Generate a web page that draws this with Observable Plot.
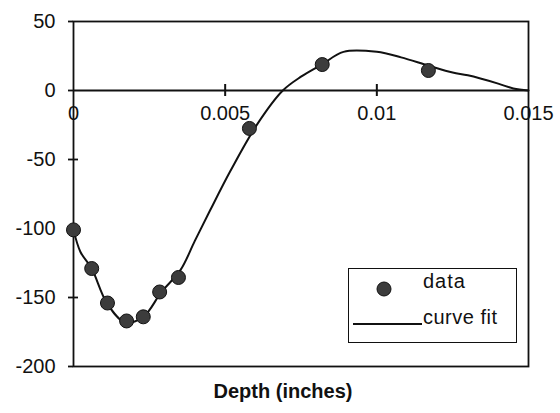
<!DOCTYPE html>
<html>
<head>
<meta charset="utf-8">
<script src="https://cdn.jsdelivr.net/npm/d3@7"></script>
<script src="https://cdn.jsdelivr.net/npm/@observablehq/plot@0.6"></script>
<style>
  html, body { margin: 0; padding: 0; background: #fff; }
  #wrap { position: relative; width: 560px; height: 413px; font-family: "Liberation Sans", Arial, Helvetica, sans-serif; }
  #legend { position: absolute; left: 348px; top: 268px; width: 169px; height: 75px; box-sizing: border-box; border: 1.5px solid #111; background: #fff; }
</style>
</head>
<body>
<div id="wrap"></div>
<script>
// Measured data points (depth in inches, value)
const dataDepth = [0, 0.0006, 0.00112, 0.00175, 0.0023, 0.00284, 0.00346, 0.0058, 0.0082, 0.0117];
const dataValue = [-101, -129, -154, -167, -164, -146, -135.5, -27.5, 18.8, 14.5];

// Curve fit
const fitDepth = [0, 0.00023, 0.0006, 0.0011, 0.0017, 0.0023, 0.0029, 0.00353, 0.0040, 0.0045, 0.00518, 0.00607, 0.0069, 0.0075, 0.0082, 0.0089, 0.0100, 0.0108, 0.0117, 0.0125, 0.0130, 0.0140, 0.0145, 0.0150];
const fitValue = [-101, -117, -129, -154, -168, -164, -146, -130, -109, -87, -58, -24, 0, 10, 19, 28, 28, 24, 18, 13, 11, 5, 1.5, 0];

const xTickValues = [0, 0.005, 0.01, 0.015];
const xTickLabels = ["0", "0.005", "0.01", "0.015"];
const yTickValues = [50, 0, -50, -100, -150, -200];
const xLabel = "Depth (inches)";
const legendLabels = ["data", "curve fit"];

const points = dataDepth.map((d, i) => ({x: d, y: dataValue[i]}));
const fit = fitDepth.map((d, i) => ({x: d, y: fitValue[i]}));

const font = "\"Liberation Sans\", Arial, Helvetica, sans-serif";

const chart = Plot.plot({
  width: 560,
  height: 413,
  marginLeft: 73,
  marginRight: 32,
  marginTop: 21,
  marginBottom: 47,
  style: {fontFamily: font, fontSize: "20px", color: "#111", background: "#fff", overflow: "visible"},
  x: {domain: [0, 0.015]},
  y: {domain: [-200, 50]},
  marks: [
    Plot.frame({stroke: "#111", strokeWidth: 1.8}),
    Plot.ruleY([0], {stroke: "#111", strokeWidth: 1.8}),
    // y axis labels and outward ticks
    Plot.axisY({ticks: yTickValues, tickSize: 5, tickPadding: 13, tickFormat: d => String(d), stroke: "#111", strokeWidth: 1.8, fill: "#111", label: null, fontSize: 20, letterSpacing: "1px"}),
    // inward part of y ticks
    Plot.axisY({ticks: [-50, -100, -150], tickSize: 5, dx: 5, text: null, stroke: "#111", strokeWidth: 1.8, label: null}),
    // x ticks crossing zero line
    Plot.axisX({ticks: [0.005, 0.01], anchor: "bottom", tickSize: 12, dy: -282, text: null, stroke: "#111", strokeWidth: 2, label: null}),
    // x tick labels just under zero line
    Plot.axisX({ticks: xTickValues, anchor: "bottom", tickSize: 0, tickPadding: 15, dy: -276, tickFormat: d => xTickLabels[xTickValues.indexOf(d)], fill: "#111", label: null, fontSize: 20, letterSpacing: "1px"}),
    Plot.line(fit, {x: "x", y: "y", stroke: "#111", strokeWidth: 2, curve: "catmull-rom"}),
    Plot.dot(points, {x: "x", y: "y", r: 7, fill: "#3c3c3c", stroke: "#111", strokeWidth: 1}),
    Plot.text([xLabel], {frameAnchor: "bottom", dy: 31, dx: -18, fontWeight: "bold", fontSize: 20, fill: "#111"})
  ]
});

const wrap = document.getElementById("wrap");
wrap.appendChild(chart);

// Legend overlay
const legend = document.createElement("div");
legend.id = "legend";
legend.innerHTML = `
<svg width="169" height="75" style="position:absolute;left:-1.5px;top:-1.5px;overflow:visible;font-family:${font.replace(/"/g, "'")};font-size:20px;">
  <circle cx="36" cy="21" r="7" fill="#3c3c3c" stroke="#111" stroke-width="1"></circle>
  <text x="75" y="15" dominant-baseline="middle" fill="#111" letter-spacing="1px">${legendLabels[0]}</text>
  <line x1="5" x2="74" y1="56" y2="56" stroke="#111" stroke-width="2"></line>
  <text x="75" y="51" dominant-baseline="middle" fill="#111" letter-spacing="0.5px">${legendLabels[1]}</text>
</svg>`;
wrap.appendChild(legend);
</script>
</body>
</html>
